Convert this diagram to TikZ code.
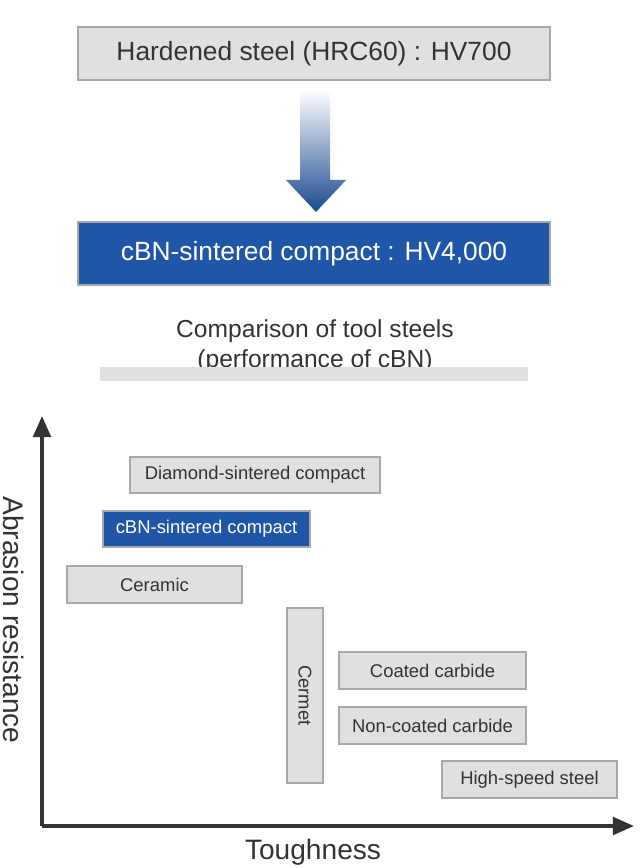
\documentclass[tikz,border=0pt]{standalone}
\usepackage{fontspec}
\setmainfont{Liberation Sans}
\usetikzlibrary{arrows.meta}
\definecolor{boxgray}{HTML}{E0E0E0}
\definecolor{edgegray}{HTML}{A8A8A8}
\definecolor{txtgray}{HTML}{333333}
\definecolor{cbnblue}{HTML}{1F56A8}
\begin{document}
\begin{tikzpicture}[x = 0.02cm, y = -0.02cm, line width = 0.6pt,
                    gbox/.style = {draw = edgegray, fill = boxgray, text = txtgray, inner sep = 0pt},
                    bbox/.style = {draw = edgegray, fill = cbnblue, text = white, inner sep = 0pt},
                    small/.style = {font = \fontsize{10.5}{12}\selectfont}]
  \useasboundingbox (0, 0) rectangle (640, 868);
  % header boxes
  \node [gbox, minimum width = 472*0.02cm, minimum height = 53*0.02cm,
         font = \fontsize{15}{18}\selectfont] (hard) at (314, 53.5) {Hardened steel (HRC60) : HV700};
  \node [bbox, minimum width = 472*0.02cm, minimum height = 63*0.02cm,
         font = \fontsize{15}{18}\selectfont] (cbn) at (314, 253.5) {cBN-sintered compact : HV4,000};
  \shade [top color = white, bottom color = cbnblue!85!black]
    (300, 90) -- (330, 90) -- (330, 180) -- (346, 180) -- (316, 212)
    -- (286, 180) -- (300, 180) -- cycle;
  % title
  \node [text = txtgray, align = center, font = \fontsize{14}{17}\selectfont] (title) at (315, 346)
    {Comparison of tool steels\\(performance of cBN)};
  \fill [boxgray] (100, 367) rectangle (528, 381);
  % axes
  \coordinate (O) at (42, 826);
  \coordinate (Ytop) at (42, 416);
  \coordinate (Xend) at (634, 826);
  \draw [txtgray, line width = 2pt, -{Triangle[length = 12pt, width = 10pt]}] (O) -- (Ytop);
  \draw [txtgray, line width = 2pt, -{Triangle[length = 12pt, width = 10pt]}] (O) -- (Xend);
  \node [text = txtgray, rotate = -90, font = \fontsize{16}{19}\selectfont] (yl) at (14, 620) {Abrasion resistance};
  \node [text = txtgray, font = \fontsize{16}{19}\selectfont] (xl) at (313, 852) {Toughness};
  % materials
  \node [gbox, small, minimum width = 250*0.02cm, minimum height = 36*0.02cm] (dia) at (255, 475) {Diamond-sintered compact};
  \node [bbox, small, minimum width = 207*0.02cm, minimum height = 36*0.02cm] (cbns) at (206.5, 529) {cBN-sintered compact};
  \node [gbox, small, minimum width = 175*0.02cm, minimum height = 37*0.02cm] (cer) at (154.5, 584.5) {Ceramic};
  \node [gbox, small, minimum width = 175*0.02cm, minimum height = 36*0.02cm, rotate = -90] (cermet) at (305, 695.5) {Cermet};
  \node [gbox, small, minimum width = 187*0.02cm, minimum height = 37*0.02cm] (coat) at (432.5, 670.5) {Coated carbide};
  \node [gbox, small, minimum width = 187*0.02cm, minimum height = 37*0.02cm] (ncoat) at (432.5, 725.5) {Non-coated carbide};
  \node [gbox, small, minimum width = 175*0.02cm, minimum height = 37*0.02cm] (hss) at (529.5, 779.5) {High-speed steel};
\end{tikzpicture}
\end{document}
